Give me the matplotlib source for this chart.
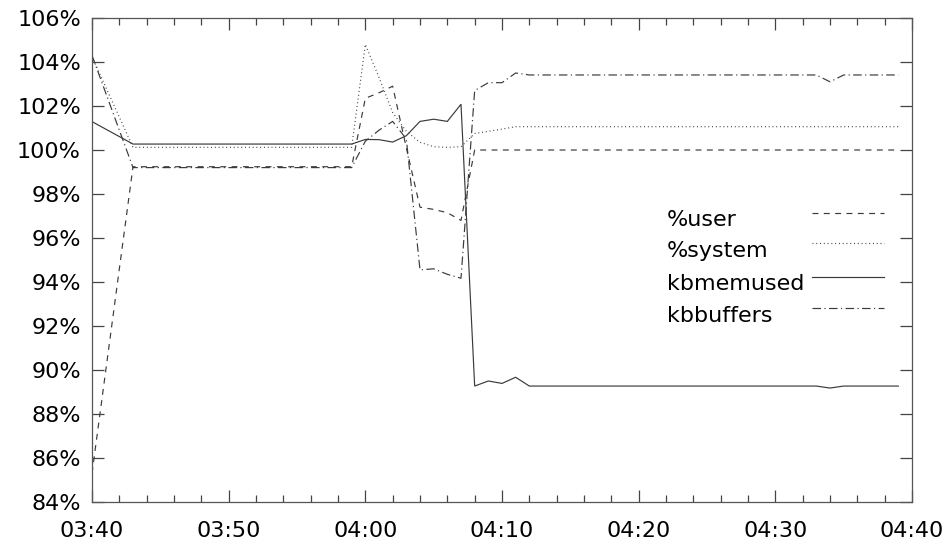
import matplotlib
matplotlib.use("Agg")
import matplotlib.pyplot as plt
from matplotlib.ticker import MultipleLocator

plt.rcParams['font.family'] = ['DejaVu Sans']

# minutes after 03:40
minutes = [0, 3, 19, 20, 21, 22, 23, 24, 25, 26, 27, 28, 29, 30, 31, 32, 53, 54, 55, 59]

user = [85.3, 99.24, 99.24, 102.35, 102.6, 102.9, 100.1, 97.4, 97.3, 97.15, 96.8,
        100.0, 100.0, 100.0, 100.0, 100.0, 100.0, 100.0, 100.0, 100.0]
system = [104.24, 100.12, 100.12, 104.8, 103.3, 101.7, 100.85, 100.35, 100.15, 100.12, 100.15,
          100.75, 100.85, 100.95, 101.06, 101.06, 101.06, 101.06, 101.06, 101.06]
kbmemused = [101.29, 100.27, 100.27, 100.48, 100.47, 100.36, 100.65, 101.3, 101.4, 101.3, 102.08,
             89.27, 89.5, 89.39, 89.67, 89.27, 89.27, 89.18, 89.27, 89.27]
kbbuffers = [104.3, 99.2, 99.2, 100.4, 100.9, 101.3, 100.5, 94.55, 94.6, 94.35, 94.17,
             102.7, 103.06, 103.06, 103.5, 103.41, 103.41, 103.1, 103.41, 103.41]

series_names = ["%user", "%system", "kbmemused", "kbbuffers"]

x_ticks = [0, 10, 20, 30, 40, 50, 60]
x_tick_labels = ["03:40", "03:50", "04:00", "04:10", "04:20", "04:30", "04:40"]
y_ticks = [84, 86, 88, 90, 92, 94, 96, 98, 100, 102, 104, 106]
y_tick_labels = ["84%", "86%", "88%", "90%", "92%", "94%", "96%", "98%",
                 "100%", "102%", "104%", "106%"]

styles = [
    (0, (5.0, 4.6)),
    (0, (0.8, 2.4)),
    "solid",
    (0, (7.2, 2.9, 1.0, 2.9)),
]
line_color = "#3a3a3a"

fig = plt.figure(figsize=(9.48, 5.54), dpi=100)
ax = fig.add_axes([92 / 948, 1 - 502 / 554, 820 / 948, 484 / 554])

all_series = [user, system, kbmemused, kbbuffers]
for vals, ls, name in zip(all_series, styles, series_names):
    ax.plot(minutes, vals, linestyle=ls, color=line_color, linewidth=0.85,
            solid_joinstyle="miter", label=name)

ax.set_xlim(0, 60)
ax.set_ylim(84, 106)
ax.set_xticks(x_ticks)
ax.set_xticklabels(x_tick_labels)
ax.set_yticks(y_ticks)
ax.set_yticklabels(y_tick_labels)
ax.xaxis.set_minor_locator(MultipleLocator(2))

ax.tick_params(which="both", direction="in", top=True, right=True,
               color="#444444", width=0.9)
ax.tick_params(which="major", length=8.8)
ax.tick_params(which="minor", length=5.0)
ax.tick_params(axis="x", pad=14, labelsize=16)
ax.tick_params(axis="y", pad=8, labelsize=16)
for sp in ax.spines.values():
    sp.set_color("#555555")
    sp.set_linewidth(0.9)

# gnuplot-style key: text left, sample line right
key_rows_px = [212.7, 243.3, 276.7, 308.3]
for name, ls, row in zip(series_names, styles, key_rows_px):
    yf = (502 - row) / 484
    ybase = (502 - row - 13.3) / 484
    ax.text((667 - 92) / 820, ybase, name, transform=ax.transAxes,
            fontsize=16, ha="left", va="baseline", color="black")
    ax.plot([(812 - 92) / 820, (884 - 92) / 820], [yf, yf], transform=ax.transAxes,
            linestyle=ls, color=line_color, linewidth=0.85)

fig.savefig("out.png", dpi=100)
